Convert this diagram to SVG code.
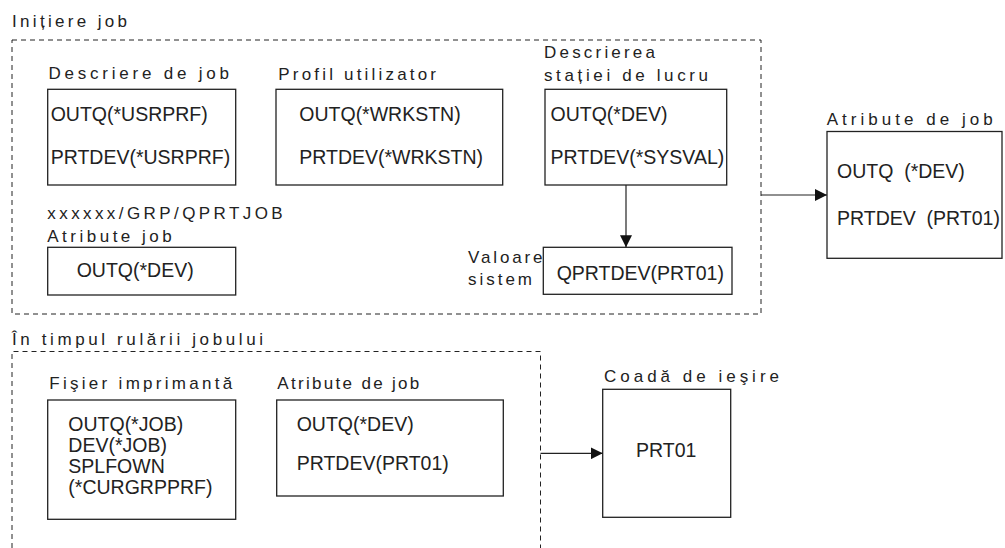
<svg xmlns="http://www.w3.org/2000/svg" width="1005" height="548" viewBox="0 0 1005 548">
<style>
.lbl{font-family:"Liberation Sans",Arial,sans-serif;font-size:17px;fill:#222;white-space:pre}
.txt{font-family:"Liberation Sans",Arial,sans-serif;font-size:19.5px;fill:#222;white-space:pre}
.box{fill:#fff;stroke:#222;stroke-width:1.3}
.dash{fill:none;stroke:#222;stroke-width:1;stroke-dasharray:5,4}
.conn{fill:none;stroke:#222;stroke-width:1.2}
</style>
<defs>
<marker id="arr" viewBox="0 0 12 12" refX="12" refY="6" markerWidth="12" markerHeight="12" markerUnits="userSpaceOnUse" orient="auto">
<path d="M0,0 L12,6 L0,12 Z" fill="#111"/>
</marker>
</defs>
<rect fill="#fff" width="1005" height="548"/>

<g id="group-initiere">
<text class="lbl" x="12" y="26.5" textLength="115" lengthAdjust="spacing">Inițiere job</text>
<rect class="dash" x="12" y="40" width="749" height="274"/>
</g>
<g id="group-rulare">
<text class="lbl" x="12" y="345" textLength="251" lengthAdjust="spacing">În timpul rulării jobului</text>
<path class="dash" d="M12,548 V351.5 H540.5 V548"/>
</g>

<g id="node-descriere-job">
<text class="lbl" x="48.5" y="79" textLength="180.5" lengthAdjust="spacing">Descriere de job</text>
<rect class="box" x="47.7" y="89.3" width="188" height="95.7"/>
<text class="txt" x="50.7" y="121">OUTQ(*USRPRF)</text>
<text class="txt" x="50.7" y="164">PRTDEV(*USRPRF)</text>
</g>

<g id="node-profil">
<text class="lbl" x="278.3" y="80" textLength="157.7" lengthAdjust="spacing">Profil utilizator</text>
<rect class="box" x="276" y="89.3" width="226.7" height="95.7"/>
<text class="txt" x="299.3" y="121">OUTQ(*WRKSTN)</text>
<text class="txt" x="299.3" y="164">PRTDEV(*WRKSTN)</text>
</g>

<g id="node-statie">
<text class="lbl" x="544" y="58" textLength="111" lengthAdjust="spacing">Descrierea</text>
<text class="lbl" x="544" y="81" textLength="164" lengthAdjust="spacing">stației de lucru</text>
<rect class="box" x="545" y="89.3" width="181.7" height="95.7"/>
<text class="txt" x="550.5" y="121">OUTQ(*DEV)</text>
<text class="txt" x="550.5" y="164">PRTDEV(*SYSVAL)</text>
</g>

<g id="node-grp">
<text class="lbl" x="47.3" y="219" textLength="235.4" lengthAdjust="spacing">xxxxxx/GRP/QPRTJOB</text>
<text class="lbl" x="47.3" y="242" textLength="124.4" lengthAdjust="spacing">Atribute job</text>
<rect class="box" x="47.7" y="247.3" width="188" height="47.7"/>
<text class="txt" x="76.7" y="277">OUTQ(*DEV)</text>
</g>

<g id="node-valoare">
<text class="lbl" x="468" y="263" textLength="74.5" lengthAdjust="spacing">Valoare</text>
<text class="lbl" x="468" y="285" textLength="64" lengthAdjust="spacing">sistem</text>
<rect class="box" x="543.3" y="247.3" width="188.7" height="47"/>
<text class="txt" x="556.7" y="280">QPRTDEV(PRT01)</text>
</g>

<g id="node-atribute-top">
<text class="lbl" x="826.7" y="125" textLength="166" lengthAdjust="spacing">Atribute de job</text>
<rect class="box" x="827" y="131.5" width="175" height="126.8"/>
<text class="txt" x="837" y="178">OUTQ  (*DEV)</text>
<text class="txt" x="837" y="225">PRTDEV  (PRT01)</text>
</g>

<g id="node-fisier">
<text class="lbl" x="49.3" y="389" textLength="183" lengthAdjust="spacing">Fişier imprimantă</text>
<rect class="box" x="47.7" y="400" width="188" height="119.3"/>
<text class="txt" x="68.3" y="431">OUTQ(*JOB)</text>
<text class="txt" x="68.3" y="452">DEV(*JOB)</text>
<text class="txt" x="68.3" y="473">SPLFOWN</text>
<text class="txt" x="68.3" y="494">(*CURGRPPRF)</text>
</g>

<g id="node-atribute-mid">
<text class="lbl" x="277.3" y="389" textLength="142" lengthAdjust="spacing">Atribute de job</text>
<rect class="box" x="276.7" y="400" width="226.6" height="96"/>
<text class="txt" x="296.7" y="431">OUTQ(*DEV)</text>
<text class="txt" x="296.7" y="470">PRTDEV(PRT01)</text>
</g>

<g id="node-coada">
<text class="lbl" x="604" y="381.7" textLength="175" lengthAdjust="spacing">Coadă de ieşire</text>
<rect class="box" x="602.7" y="389.3" width="128" height="128"/>
<text class="txt" x="636" y="457">PRT01</text>
</g>

<g id="connectors">
<line class="conn" x1="626" y1="185" x2="626" y2="247.3" marker-end="url(#arr)"/>
<line class="conn" x1="761" y1="195" x2="827" y2="195" marker-end="url(#arr)"/>
<line class="conn" x1="540.5" y1="453.3" x2="602.7" y2="453.3" marker-end="url(#arr)"/>
</g>
</svg>
